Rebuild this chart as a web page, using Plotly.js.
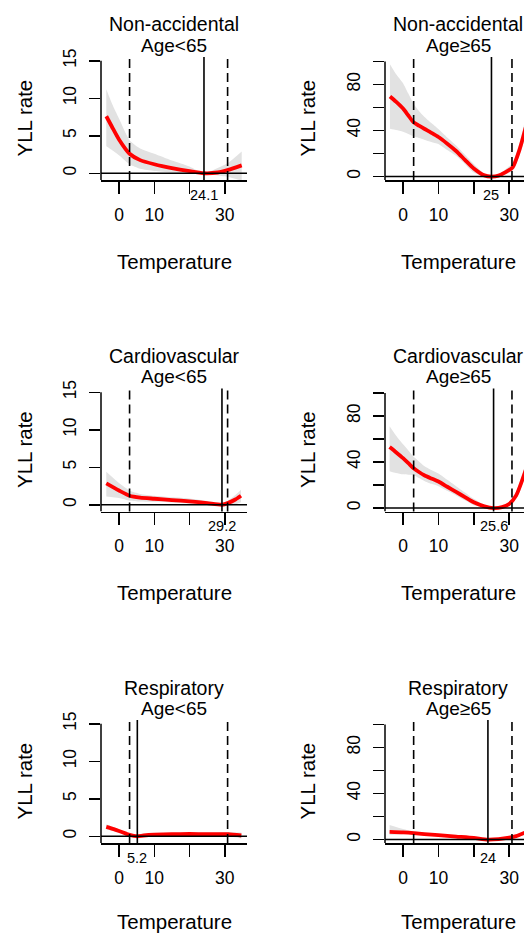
<!DOCTYPE html>
<html>
<head>
<meta charset="utf-8">
<script src="https://cdn.plot.ly/plotly-3.0.1.min.js"></script>
<style>html,body{margin:0;padding:0;background:#fff;overflow:hidden}#plot{width:524px;height:934px}</style>
</head>
<body>
<div id="plot"></div>
<script>
// ---------------- data ----------------
const causes = ["Non-accidental", "Cardiovascular", "Respiratory"];
const ageGroups = ["Age&lt;65", "Age≥65"];
const pctLow = 3.0;    // dashed line (low percentile)
const pctHigh = 30.8;  // dashed line (high percentile)

// Non-accidental, Age<65
const tempNA1 = [-3.6, -2, 0, 3, 6, 10, 15, 20, 24.1, 28, 31, 34.8];
const fitNA1  = [7.6, 6.2, 4.5, 2.6, 1.75, 1.2, 0.68, 0.27, 0, 0.1, 0.45, 1.05];
const hiNA1   = [11.2, 9.3, 7.3, 4.4, 3.3, 2.6, 1.7, 0.9, 0, 0.7, 1.4, 2.9];
const loNA1   = [3.6, 3.1, 2.4, 1.2, 0.6, 0.3, 0.1, -0.05, 0, -0.3, -0.5, -1.0];
const mmtNA1 = 24.1;

// Non-accidental, Age>=65
const tempNA2 = [-3.7, -2, 0, 1.5, 3, 4.5, 6, 8, 10, 12.5, 15, 17.5, 20, 23, 25, 27, 29, 31, 33, 34.8];
const fitNA2  = [69.5, 65, 59, 53, 47, 44.2, 41.5, 38, 34.3, 28.5, 22.2, 14.5, 7, 1.0, 0, 0.8, 3.8, 8, 24, 44];
const hiNA2   = [97.5, 89, 81, 72, 63, 57, 52, 46.5, 41.3, 34, 27, 19, 11, 2.5, 0, 1.8, 6.3, 12, 30, 53];
const loNA2   = [41.5, 40.5, 39, 37, 35, 33.5, 32, 30, 28.3, 23, 18, 11, 3.5, 0, 0, 0, 1.8, 5, 19, 36];
const mmtNA2 = 25;

// Cardiovascular, Age<65
const tempCV1 = [-3.6, 0, 3, 6, 10, 15, 20, 25, 29.2, 31, 33, 34.6];
const fitCV1  = [2.85, 1.9, 1.2, 0.95, 0.8, 0.62, 0.45, 0.22, 0, 0.25, 0.7, 1.2];
const hiCV1   = [4.4, 2.9, 1.9, 1.45, 1.2, 1.0, 0.85, 0.5, 0, 0.6, 1.3, 2.0];
const loCV1   = [1.1, 0.9, 0.55, 0.45, 0.4, 0.3, 0.15, 0.05, 0, -0.05, 0.05, 0.35];
const mmtCV1 = 29.2;

// Cardiovascular, Age>=65
const tempCV2 = [-3.8, -2, 0, 1.5, 3, 4.5, 6, 8, 10, 12.5, 15, 17.5, 20, 23, 25.6, 28, 30, 32, 34.8];
const fitCV2  = [53, 48.5, 43.3, 39, 34.5, 31.3, 28.5, 25.7, 23, 18.5, 14, 9.5, 5, 1.5, 0, 0.8, 3.5, 11, 34];
const hiCV2   = [71, 63, 55.3, 50, 44.5, 40.5, 36.5, 33, 30, 24.5, 19, 13.5, 8, 2.7, 0, 1.6, 5.5, 14.5, 40];
const loCV2   = [32, 30.5, 29.3, 29, 28.5, 26, 23.5, 21, 19, 15, 11, 6.7, 2.5, 0.5, 0, 0.2, 2, 8, 29];
const mmtCV2 = 25.6;

// Respiratory, Age<65
const tempRE1 = [-3.6, -1.5, 0, 2, 3, 4.2, 5.2, 7, 10, 15, 20, 25, 31, 34.7];
const fitRE1  = [1.25, 0.95, 0.7, 0.35, 0.18, 0.05, 0, 0.1, 0.2, 0.28, 0.3, 0.28, 0.28, 0.1];
const hiRE1   = [1.6, 1.2, 0.9, 0.5, 0.28, 0.1, 0, 0.2, 0.35, 0.45, 0.5, 0.5, 0.55, 0.5];
const loRE1   = [0.9, 0.7, 0.5, 0.2, 0.08, 0.0, 0, 0.0, 0.05, 0.1, 0.1, 0.05, 0.0, -0.3];
const mmtRE1 = 5.2;

// Respiratory, Age>=65
const tempRE2 = [-3.8, 0, 3, 6, 10, 15, 20, 24, 27, 30, 32, 34.8];
const fitRE2  = [6.7, 6.2, 5.6, 4.8, 3.8, 2.6, 1.4, 0, 0.4, 1.6, 3.0, 6.5];
const hiRE2   = [12.7, 9.2, 7.1, 5.8, 4.6, 3.2, 1.8, 0, 0.7, 2.2, 4.0, 8.5];
const loRE2   = [4.2, 4.7, 4.6, 4.0, 3.2, 2.1, 1.1, 0, 0.1, 1.0, 2.0, 4.5];
const mmtRE2 = 24;

const xTickVals = [0, 10, 20, 30];
const xTickText = ["0", "10", "", "30"];
const yTickValsLow = [0, 5, 10, 15];
const yTickTextLow = ["0", "5", "10", "15"];
const yTickValsHigh = [0, 20, 40, 60, 80, 100];
const yTickTextHigh = ["0", "", "40", "", "80", ""];

// ---------------- layout helpers ----------------
const W = 524, H = 934;
const FONT = "Liberation Sans, Arial, Helvetica, sans-serif";
const rowTop = [57, 388.5, 720];
const rowBot = [180, 511.5, 843];
const colLeft = [101, 385];
const colRight = [247, 524];
const colCenter = [174, 458];
const xRanges = [[-5.1, 36.3], [-5.1, 34.2]];
const yRanges = [[-0.9, 15.5], [-3.0, 103.8]];
const yTop = [15, 100];

const panels = [
  {t: tempNA1, fit: fitNA1, lo: loNA1, hi: hiNA1, mmt: mmtNA1, cause: 0, age: 0},
  {t: tempNA2, fit: fitNA2, lo: loNA2, hi: hiNA2, mmt: mmtNA2, cause: 0, age: 1},
  {t: tempCV1, fit: fitCV1, lo: loCV1, hi: hiCV1, mmt: mmtCV1, cause: 1, age: 0},
  {t: tempCV2, fit: fitCV2, lo: loCV2, hi: hiCV2, mmt: mmtCV2, cause: 1, age: 1},
  {t: tempRE1, fit: fitRE1, lo: loRE1, hi: hiRE1, mmt: mmtRE1, cause: 2, age: 0},
  {t: tempRE2, fit: fitRE2, lo: loRE2, hi: hiRE2, mmt: mmtRE2, cause: 2, age: 1}
];

const traces = [];
const shapes = [];
const annotations = [];
const layout = {
  width: W, height: H,
  margin: {l: 0, r: 0, t: 0, b: 0},
  paper_bgcolor: "#fff", plot_bgcolor: "#fff",
  showlegend: false,
  font: {family: FONT, color: "#000"}
};

panels.forEach((p, i) => {
  const n = i + 1;
  const xa = "x" + n, ya = "y" + n;
  const row = p.cause, col = p.age;
  const off = 331.5 * row;
  layout["xaxis" + n] = {
    domain: [colLeft[col] / W, colRight[col] / W],
    range: xRanges[col], anchor: ya,
    showgrid: false, zeroline: false,
    showline: true, linecolor: "#000", linewidth: 1.5,
    ticks: "outside", ticklen: 12, tickwidth: 1.5, tickcolor: "#000",
    tickvals: xTickVals, ticktext: xTickText,
    tickfont: {family: FONT, size: 17.5, color: "#000"},
    ticklabelstandoff: 6,
    fixedrange: true
  };
  layout["yaxis" + n] = {
    domain: [1 - rowBot[row] / H, 1 - rowTop[row] / H],
    range: yRanges[col], anchor: xa,
    showgrid: false, zeroline: false, showline: false,
    ticks: "outside", ticklen: 11, tickwidth: 1.5, tickcolor: "#000",
    tickvals: col === 0 ? yTickValsLow : yTickValsHigh,
    ticktext: col === 0 ? yTickTextLow : yTickTextHigh,
    tickangle: -90,
    tickfont: {family: FONT, size: 17.5, color: "#000"},
    ticklabelstandoff: 6,
    fixedrange: true
  };
  // confidence band
  traces.push({x: p.t, y: p.lo, xaxis: xa, yaxis: ya, mode: "lines",
    line: {width: 0, shape: "spline", smoothing: 0.6}, hoverinfo: "skip"});
  traces.push({x: p.t, y: p.hi, xaxis: xa, yaxis: ya, mode: "lines", fill: "tonexty",
    fillcolor: "rgb(226,226,226)", line: {width: 0, shape: "spline", smoothing: 0.6}, hoverinfo: "skip"});
  // fitted curve
  traces.push({x: p.t, y: p.fit, xaxis: xa, yaxis: ya, mode: "lines",
    line: {color: "#ff0000", width: 3.8, shape: "spline", smoothing: 0.6}});

  // y = 0 reference line
  shapes.push({type: "line", xref: xa + " domain", yref: ya, x0: 0, x1: 1, y0: 0, y1: 0,
    line: {color: "#000", width: 1.5}});
  // y-axis line (from bottom up to top tick)
  shapes.push({type: "line", xref: xa + " domain", yref: ya, x0: 0, x1: 0,
    y0: yRanges[col][0], y1: yTop[col], line: {color: "#000", width: 1.5}});
  // percentile dashed lines
  [pctLow, pctHigh].forEach(v => shapes.push({type: "line", xref: xa, yref: ya + " domain",
    x0: v, x1: v, y0: 0, y1: 1, line: {color: "#000", width: 1.6, dash: "9px,5px"}}));
  // MMT solid line
  shapes.push({type: "line", xref: xa, yref: ya + " domain", x0: p.mmt, x1: p.mmt, y0: 0, y1: 1,
    line: {color: "#000", width: 1.6}});
  // MMT label
  annotations.push({xref: xa, yref: "paper", x: p.mmt, y: 1 - (194.7 + off) / H,
    text: String(p.mmt), showarrow: false, xanchor: "center", yanchor: "middle",
    font: {family: FONT, size: 14.5, color: "#000"}});
  // titles
  annotations.push({xref: "paper", yref: "paper", x: colCenter[col] / W, y: 1 - (24.5 + off) / H,
    text: causes[row], showarrow: false, xanchor: "center", yanchor: "middle",
    font: {family: FONT, size: 19.5, color: "#000"}});
  annotations.push({xref: "paper", yref: "paper", x: colCenter[col] / W, y: 1 - (45 + off) / H,
    text: ageGroups[col], showarrow: false, xanchor: "center", yanchor: "middle",
    font: {family: FONT, size: 19, color: "#000"}});
  // axis titles (bottom row kept inside the page)
  const tY = 261 + off;
  annotations.push(row === 2 ?
    {xref: "paper", yref: "paper", x: colCenter[col] / W, y: 0,
     text: "Temperature", showarrow: false, xanchor: "center", yanchor: "bottom", borderpad: 0,
     font: {family: FONT, size: 20.5, color: "#000"}} :
    {xref: "paper", yref: "paper", x: colCenter[col] / W, y: 1 - tY / H,
     text: "Temperature", showarrow: false, xanchor: "center", yanchor: "middle",
     font: {family: FONT, size: 20.5, color: "#000"}});
  annotations.push({xref: "paper", yref: "paper", x: (col === 0 ? 24 : 307) / W, y: 1 - (118.5 + off) / H,
    text: "YLL rate", textangle: -90, showarrow: false, xanchor: "center", yanchor: "middle",
    font: {family: FONT, size: 20.5, color: "#000"}});
});

layout.shapes = shapes;
layout.annotations = annotations;

Plotly.newPlot("plot", traces, layout, {staticPlot: true, displayModeBar: false});
</script>
</body>
</html>
